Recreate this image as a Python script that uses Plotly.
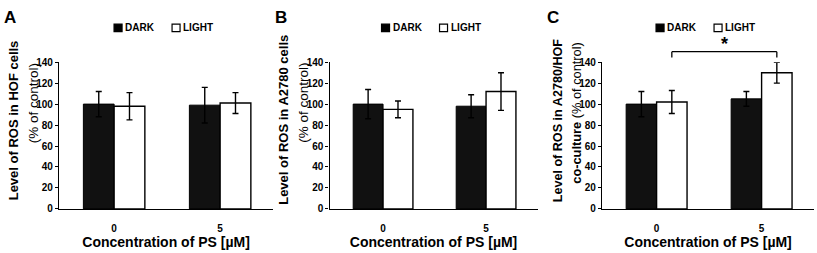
import plotly.graph_objects as go

W, H = 817, 253

# ---------------- data ----------------
categories = ["0", "5"]
series_names = ["DARK", "LIGHT"]
y_ticks = [0, 20, 40, 60, 80, 100, 120, 140]

hof_dark = [100, 99]
hof_dark_err = [12, 17]
hof_light = [98, 101]
hof_light_err = [13, 10]

a2780_dark = [100, 98]
a2780_dark_err = [14, 11]
a2780_light = [95, 112]
a2780_light_err = [8, 18]

co_dark = [100, 105]
co_dark_err = [12, 7]
co_light = [102, 130]
co_light_err = [11, 10]

panel_letters = ["A", "B", "C"]
ytitle_line1 = ["<b>Level of ROS in HOF cells</b>",
                "<b>Level of ROS in A2780 cells</b>",
                "<b>Level of ROS in A2780/HOF</b>"]
ytitle_line2 = ["(% of control)",
                "(% of control)",
                "<b>co-culture</b> (% of control)"]
xtitle = "<b>Concentration of PS [µM]</b>"
sig_label = "*"

# ---------------- layout constants ----------------
BARGAP = 0.42
BAR_W = (1 - BARGAP) / 2
XR = [-0.52, 1.5]
FONT = "Liberation Sans, Arial, sans-serif"
PLOT_TOP, PLOT_BOT = 59, 213

panels = [
    dict(dark=hof_dark, dark_err=hof_dark_err, light=hof_light, light_err=hof_light_err,
         x0=59, spacing=106, t1=(13, 120, 46), t2=(13.5, 102, 26)),
    dict(dark=a2780_dark, dark_err=a2780_dark_err, light=a2780_light, light_err=a2780_light_err,
         x0=329.5, spacing=103, t1=(13, 120, 46), t2=(13.5, 102, 26)),
    dict(dark=co_dark, dark_err=co_dark_err, light=co_light, light_err=co_light_err,
         x0=602, spacing=105, t1=(12.6, 120, 44), t2=(12.8, 112, 25)),
]

def px_x(v):
    return v / W

def px_y(v):
    return (H - v) / H

fig = go.Figure()
annotations = []
shapes = []

for i, p in enumerate(panels, start=1):
    sfx = "" if i == 1 else str(i)
    xa, ya = "x" + sfx, "y" + sfx
    err_style = dict(type="data", color="black", thickness=1.4, width=3)
    fig.add_trace(go.Bar(
        x=categories, y=p["dark"], name=series_names[0],
        marker=dict(color="#111111", line=dict(color="black", width=1)),
        error_y=dict(array=p["dark_err"], **err_style),
        xaxis=xa, yaxis=ya, showlegend=False))
    fig.add_trace(go.Bar(
        x=categories, y=p["light"], name=series_names[1],
        marker=dict(color="white", line=dict(color="black", width=1.4)),
        error_y=dict(array=p["light_err"], **err_style),
        xaxis=xa, yaxis=ya, showlegend=False))

    x0 = p["x0"]
    x1 = x0 + (XR[1] - XR[0]) * p["spacing"]
    xc = (x0 + x1) / 2

    fig.update_layout(**{
        "xaxis" + sfx: dict(
            domain=[px_x(x0), px_x(x1)], range=XR, type="category",
            anchor=ya, showline=True, linecolor="black", linewidth=1.3,
            ticks="", showgrid=False, zeroline=False,
            tickfont=dict(family=FONT, size=10, color="black", weight="bold"),
            ticklabelstandoff=10,
            title=dict(text=xtitle, font=dict(family=FONT, size=14, color="black"),
                       standoff=4),
        ),
        "yaxis" + sfx: dict(
            domain=[px_y(PLOT_BOT), px_y(PLOT_TOP)], range=[0, 140],
            anchor=xa, showline=True, linecolor="black", linewidth=1.3,
            tickvals=y_ticks, ticks="outside", ticklen=3, tickcolor="black",
            showgrid=False, zeroline=False,
            tickfont=dict(family=FONT, size=10, color="black", weight="bold"),
        ),
    })

    # panel letter
    annotations.append(dict(text="<b>%s</b>" % panel_letters[i - 1], xref="paper", yref="paper",
                            x=px_x(x0 - 49), y=px_y(12), xanchor="center", yanchor="middle",
                            showarrow=False, font=dict(family=FONT, size=17, color="black")))
    # y titles (two lines)
    for txt, (fs, cy, dx) in ((ytitle_line1[i - 1], p["t1"]), (ytitle_line2[i - 1], p["t2"])):
        annotations.append(dict(text=txt, xref="paper", yref="paper",
                                x=px_x(x0 - dx), y=px_y(cy), xanchor="center", yanchor="middle",
                                textangle=-90, showarrow=False,
                                font=dict(family=FONT, size=fs, color="black")))
    # legend
    ly = 23
    for k, (name, fill) in enumerate(zip(series_names, ["black", "white"])):
        sx = xc - 52 + k * 58
        shapes.append(dict(type="rect", xref="paper", yref="paper",
                           x0=px_x(sx), x1=px_x(sx + 8), y0=px_y(ly + 4), y1=px_y(ly - 4),
                           fillcolor=fill, line=dict(color="black", width=1.2)))
        annotations.append(dict(text="<b>%s</b>" % name, xref="paper", yref="paper",
                                x=px_x(sx + 9), y=px_y(ly), xanchor="left", yanchor="middle",
                                showarrow=False, font=dict(family=FONT, size=10, color="black")))

# significance bracket in panel C between the two LIGHT bars
bx0 = 0 + BAR_W / 2
bx1 = 1 + BAR_W / 2
btop, bbot = 48, 54
shapes += [
    dict(type="line", xref="x3", yref="paper", x0=bx0, x1=bx0, y0=px_y(bbot), y1=px_y(btop),
         line=dict(color="black", width=1.3)),
    dict(type="line", xref="x3", yref="paper", x0=bx0, x1=bx1, y0=px_y(btop), y1=px_y(btop),
         line=dict(color="black", width=1.3)),
    dict(type="line", xref="x3", yref="paper", x0=bx1, x1=bx1, y0=px_y(bbot), y1=px_y(btop),
         line=dict(color="black", width=1.3)),
]
annotations.append(dict(text="<b>%s</b>" % sig_label, xref="x3", yref="paper",
                        x=(bx0 + bx1) / 2, y=px_y(40), xanchor="center", yanchor="middle",
                        showarrow=False, font=dict(family=FONT, size=18, color="black")))

fig.update_layout(
    width=W, height=H, margin=dict(l=0, r=0, t=0, b=0),
    paper_bgcolor="white", plot_bgcolor="white",
    barmode="group", bargap=BARGAP, bargroupgap=0,
    font=dict(family=FONT, color="black"),
    annotations=annotations, shapes=shapes, showlegend=False,
)

fig.write_html("out.html", config={"displayModeBar": False},
               post_script="document.body.style.margin='0';")
